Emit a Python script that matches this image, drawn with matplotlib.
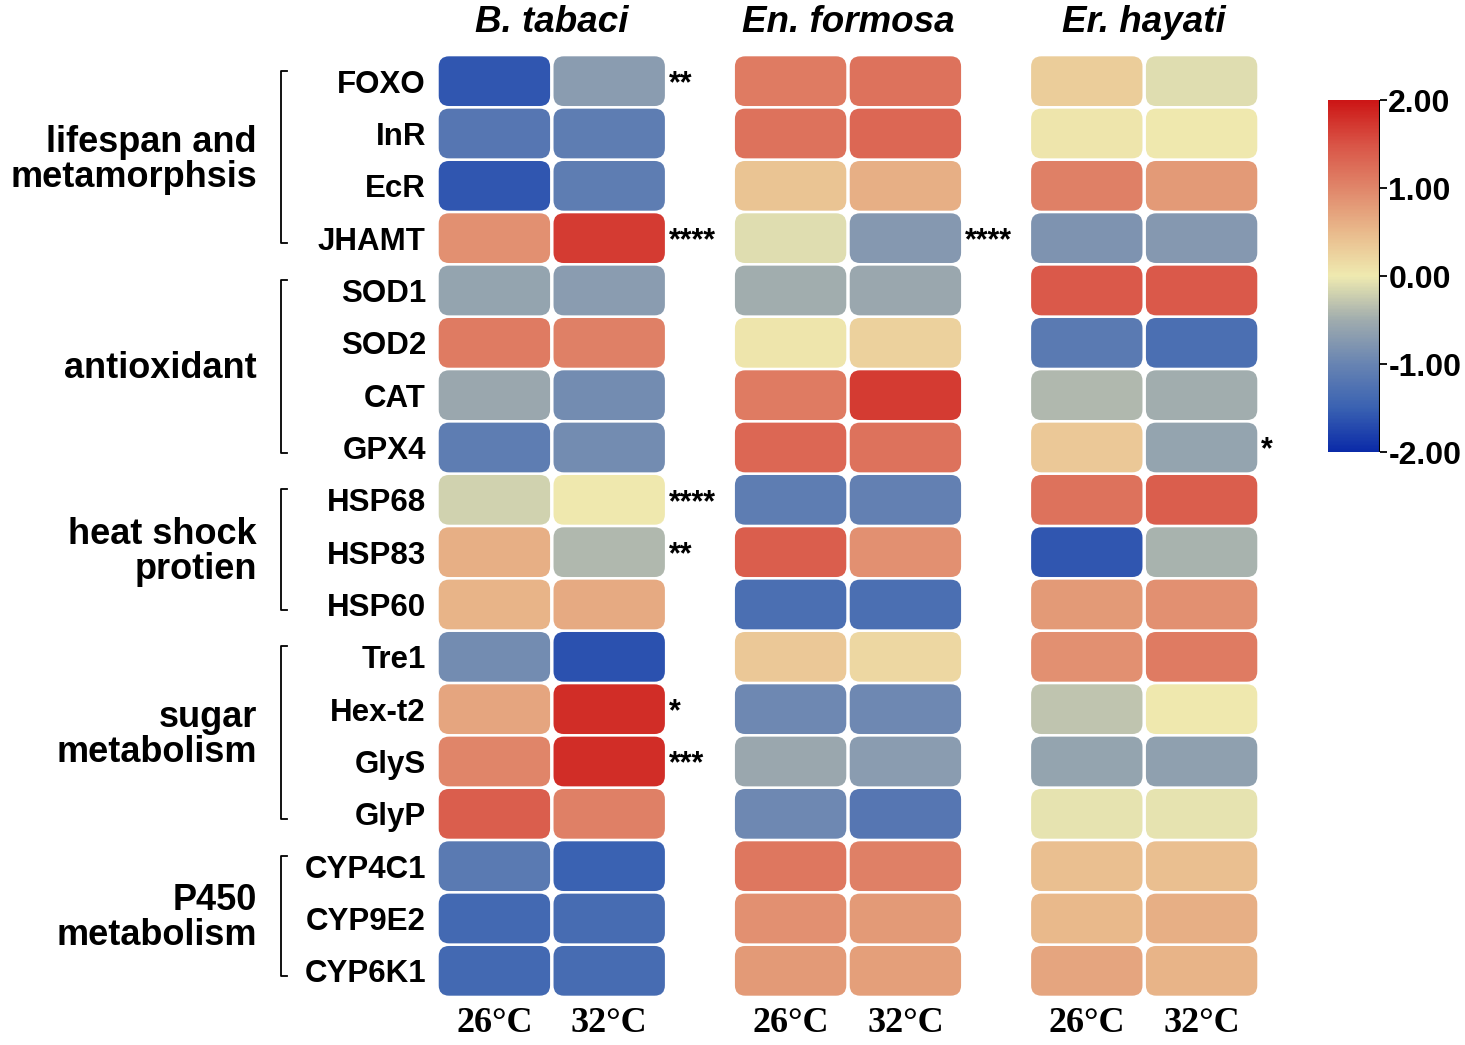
import numpy as np
import matplotlib
matplotlib.use("Agg")
import matplotlib.pyplot as plt
import matplotlib.patches as patches
import matplotlib.transforms as mtransforms
from matplotlib.colors import LinearSegmentedColormap, Normalize

genes = ["FOXO", "InR", "EcR", "JHAMT", "SOD1", "SOD2", "CAT", "GPX4",
         "HSP68", "HSP83", "HSP60", "Tre1", "Hex-t2", "GlyS", "GlyP",
         "CYP4C1", "CYP9E2", "CYP6K1"]
species = ["B. tabaci", "En. formosa", "Er. hayati"]
temps = ["26°C", "32°C"]

# (26C, 32C) per gene
b_tabaci = [(-1.6, -0.7), (-1.2, -1.1), (-1.6, -1.1), (0.9, 1.7),
            (-0.6, -0.7), (1.1, 1.05), (-0.55, -0.9), (-1.1, -0.9),
            (-0.2, 0.02), (0.6, -0.4), (0.55, 0.65),
            (-0.9, -1.65), (0.7, 1.8), (1.0, 1.8), (1.4, 1.05),
            (-1.15, -1.5), (-1.4, -1.35), (-1.4, -1.35)]
en_formosa = [(1.1, 1.2), (1.2, 1.3), (0.4, 0.6), (-0.1, -0.75),
              (-0.5, -0.55), (0.05, 0.25), (1.1, 1.7), (1.3, 1.2),
              (-1.1, -1.05), (1.4, 0.9), (-1.3, -1.3),
              (0.35, 0.2), (-0.95, -0.95), (-0.55, -0.7), (-0.95, -1.2),
              (1.15, 1.05), (0.9, 0.8), (0.8, 0.75)]
er_hayati = [(0.3, -0.1), (0.05, 0.02), (1.05, 0.8), (-0.8, -0.75),
             (1.45, 1.45), (-1.15, -1.3), (-0.4, -0.5), (0.35, -0.6),
             (1.2, 1.4), (-1.6, -0.45), (0.8, 0.9),
             (0.9, 1.1), (-0.3, 0.02), (-0.6, -0.65), (-0.05, -0.05),
             (0.45, 0.45), (0.5, 0.6), (0.7, 0.55)]

# significance marks: (species index, gene, stars)
marks = [(0, "FOXO", "**"), (0, "JHAMT", "****"), (0, "HSP68", "****"),
         (0, "HSP83", "**"), (0, "Hex-t2", "*"), (0, "GlyS", "***"),
         (1, "JHAMT", "****"), (2, "GPX4", "*")]

groups = [("lifespan and\nmetamorphsis", "FOXO", "JHAMT"),
          ("antioxidant", "SOD1", "GPX4"),
          ("heat shock\nprotien", "HSP68", "HSP60"),
          ("sugar\nmetabolism", "Tre1", "GlyP"),
          ("P450\nmetabolism", "CYP4C1", "CYP6K1")]

cb_ticks = [2.0, 1.0, 0.0, -1.0, -2.0]

plt.rcParams['font.family'] = ['Liberation Sans', 'DejaVu Sans']
plt.rcParams['font.weight'] = 'bold'

cmap = LinearSegmentedColormap.from_list("bwr_custom", [
    (0.0, "#0A2AA8"), (0.125, "#3A62B2"), (0.25, "#6884B2"),
    (0.375, "#A0ACAE"), (0.5, "#EFEAB0"), (0.625, "#E9BA8C"),
    (0.75, "#E0866A"), (0.875, "#D95446"), (1.0, "#CC1515")])
norm = Normalize(-2, 2)

fig = plt.figure(figsize=(14.65, 10.45), dpi=100)
fig.patch.set_facecolor("white")
ax = fig.add_axes([437 / 1465, 1 - 997 / 1045, 822 / 1465, 942 / 1045])

step = 2.58
n = len(genes)
ax.set_xlim(-0.5, 2 * step + 1.5)
ax.set_ylim(n - 0.5, -0.5)
aspect = (822 / (2 * step + 2)) / (942 / n)

for s, vals in enumerate([b_tabaci, en_formosa, er_hayati]):
    for i, pair in enumerate(vals):
        for c, v in enumerate(pair):
            x0 = s * step + c
            box = patches.FancyBboxPatch(
                (x0 - 0.485, i - 0.475), 0.97, 0.95,
                boxstyle="round,pad=0,rounding_size=0.09",
                mutation_aspect=aspect,
                facecolor=cmap(norm(v)), edgecolor="none")
            ax.add_patch(box)

for s, g, st in marks:
    i = genes.index(g)
    ax.text(s * step + 1.52, i + 0.06, st, ha="left", va="center",
            fontsize=22, fontweight="bold")

ax.set_yticks(range(n))
ax.set_yticklabels(genes, fontsize=22.5, fontweight="bold")
ax.tick_params(axis="y", length=0, pad=8)
ax.set_xticks([])
for sp in ax.spines.values():
    sp.set_visible(False)

trans_top = mtransforms.blended_transform_factory(ax.transData, fig.transFigure)
for s, name in enumerate(species):
    ax.text(s * step + 0.5, 1 - 22 / 1045, name, transform=trans_top,
            ha="center", va="center", fontsize=26.5, fontweight="bold",
            style="italic")
    for c, t in enumerate(temps):
        ax.text(s * step + c, 1 - 1024 / 1045, t, transform=trans_top,
                ha="center", va="center", fontsize=26, fontweight="bold",
                family=["Liberation Serif", "DejaVu Serif"])

trans_br = mtransforms.blended_transform_factory(fig.transFigure, ax.transData)
bx = 281 / 1465
tick = 6 / 1465
for label, g0, g1 in groups:
    i0, i1 = genes.index(g0), genes.index(g1)
    y0, y1 = i0 - 0.2, i1 + 0.1
    ax.plot([bx + tick, bx, bx, bx + tick], [y0, y0, y1, y1],
            transform=trans_br, color="black", lw=1.3, clip_on=False)
    ax.text(257 / 1465, (i0 + i1) / 2, label, transform=trans_br,
            ha="right", va="center", multialignment="right",
            fontsize=26, fontweight="bold", linespacing=1.0)

cax = fig.add_axes([1328 / 1465, 1 - 452 / 1045, 52 / 1465, 352 / 1045])
sm = plt.cm.ScalarMappable(norm=norm, cmap=cmap)
cb = fig.colorbar(sm, cax=cax, ticks=cb_ticks)
cb.outline.set_visible(False)
cax.axvline(1, color="black", lw=1.5)
cax.set_yticklabels([f"{t:.2f}" for t in cb_ticks], fontsize=23,
                    fontweight="bold")
cax.tick_params(axis="y", length=5, width=1.3, pad=1)

fig.savefig("out.png", dpi=100, facecolor="white")
